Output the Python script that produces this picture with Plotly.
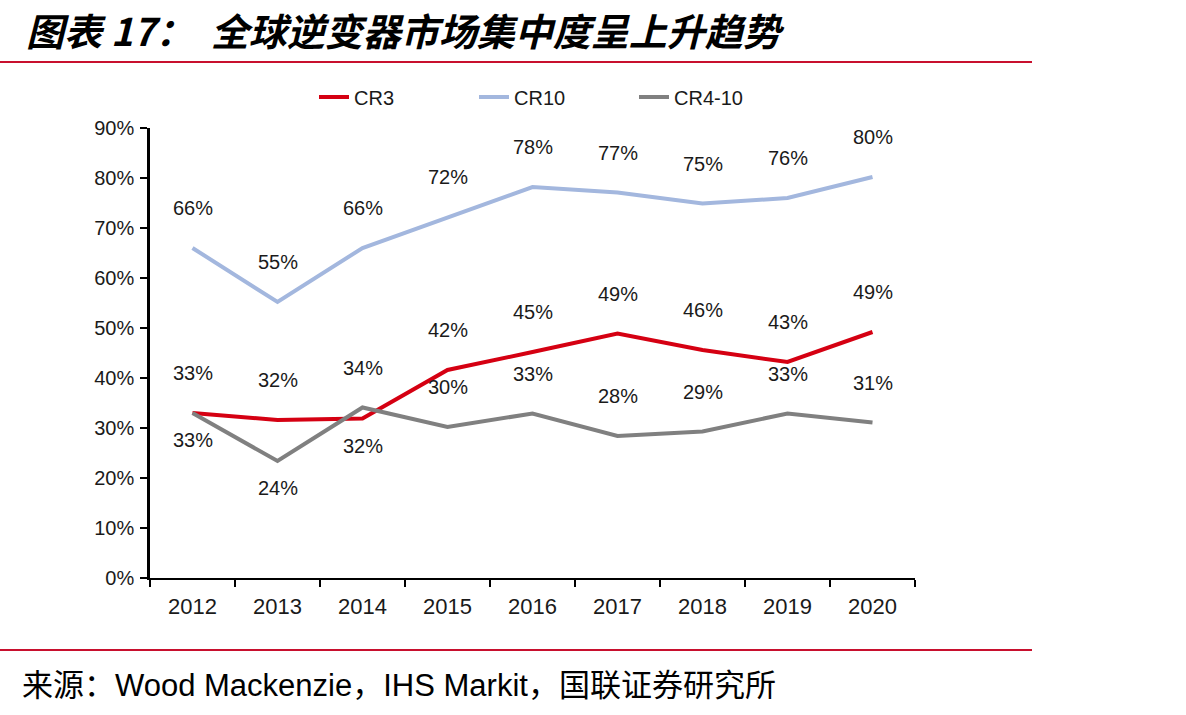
import plotly.graph_objects as go

years = ["2012", "2013", "2014", "2015", "2016", "2017", "2018", "2019", "2020"]
cr3 = [33.0, 31.6, 31.9, 41.6, 45.2, 48.9, 45.6, 43.2, 49.2]
cr10 = [66.0, 55.2, 66.0, 72.2, 78.2, 77.1, 74.9, 76.0, 80.2]
cr4_10 = [33.0, 23.4, 34.1, 30.2, 32.9, 28.4, 29.3, 32.9, 31.1]
cr3_labels = ["33%", "32%", "32%", "42%", "45%", "49%", "46%", "43%", "49%"]
cr10_labels = ["66%", "55%", "66%", "72%", "78%", "77%", "75%", "76%", "80%"]
cr4_10_labels = ["33%", "24%", "34%", "30%", "33%", "28%", "29%", "33%", "31%"]
y_ticks = [0, 10, 20, 30, 40, 50, 60, 70, 80, 90]
y_tick_labels = ["0%", "10%", "20%", "30%", "40%", "50%", "60%", "70%", "80%", "90%"]

# label placement (above / below the point)
cr3_pos = ["a", "a", "b", "a", "a", "a", "a", "a", "a"]
cr10_pos = ["a"] * 9
cr4_10_pos = ["b", "b", "a", "a", "a", "a", "a", "a", "a"]

W, H = 1186, 715
L, R, T, B = 150, 915, 128, 578
pw, ph = R - L, B - T


def px(x):
    return (x - L) / pw


def py(y):
    return (B - y) / ph


RED = "#D50012"
BLUE = "#A3B7DE"
GRAY = "#808080"
LINE_RED = "#C8102E"
FONT = "Liberation Sans"
TXT = "#1a1a1a"

fig = go.Figure()
for name, vals, col in [("CR3", cr3, RED), ("CR10", cr10, BLUE), ("CR4-10", cr4_10, GRAY)]:
    fig.add_trace(go.Scatter(x=years, y=vals, name=name, mode="lines",
                             line=dict(color=col, width=4)))

annotations = []
for vals, labels, pos in [(cr3, cr3_labels, cr3_pos), (cr10, cr10_labels, cr10_pos),
                          (cr4_10, cr4_10_labels, cr4_10_pos)]:
    for i, (v, lab, p) in enumerate(zip(vals, labels, pos)):
        annotations.append(dict(x=i, y=v, xref="x", yref="y", text=lab, showarrow=False,
                                yshift=40 if p == "a" else -27,
                                font=dict(family=FONT, size=20, color=TXT)))

annotations.append(dict(xref="paper", yref="paper", x=px(24), y=py(29), xanchor="left",
                        yanchor="middle", showarrow=False,
                        text="<b><i>图表 17：  全球逆变器市场集中度呈上升趋势</i></b>",
                        font=dict(family="Noto Sans CJK SC", size=38, color="#000000")))
annotations.append(dict(xref="paper", yref="paper", x=px(20), y=py(685), xanchor="left",
                        yanchor="middle", showarrow=False,
                        text="来源：Wood Mackenzie，IHS Markit，国联证券研究所",
                        font=dict(family="Liberation Sans, Noto Sans CJK SC", size=31, color="#000000")))

shapes = [
    dict(type="line", xref="paper", yref="paper", x0=px(0), x1=px(1032), y0=py(62), y1=py(62),
         line=dict(color=LINE_RED, width=2)),
    dict(type="line", xref="paper", yref="paper", x0=px(0), x1=px(1032), y0=py(650), y1=py(650),
         line=dict(color=LINE_RED, width=2)),
]

fig.update_layout(
    width=W, height=H,
    margin=dict(l=L, r=W - R, t=T, b=H - B, pad=0),
    plot_bgcolor="white", paper_bgcolor="white",
    showlegend=True,
    legend=dict(orientation="h", x=px(314), y=py(97), xanchor="left", yanchor="middle",
                font=dict(family=FONT, size=20, color=TXT), bgcolor="rgba(0,0,0,0)",
                entrywidth=115, entrywidthmode="pixels"),
    annotations=annotations,
    shapes=shapes,
    xaxis=dict(type="category", range=[-0.5, len(years) - 0.5],
               showline=True, linecolor="#000000", linewidth=2,
               ticks="outside", tickson="boundaries", ticklen=7, tickwidth=2, tickcolor="#000000",
               showgrid=False, zeroline=False, tickangle=0,
               tickfont=dict(family=FONT, size=22, color=TXT), ticklabelstandoff=8),
    yaxis=dict(range=[0, 90], tickmode="array", tickvals=y_ticks, ticktext=y_tick_labels,
               showline=True, linecolor="#000000", linewidth=2.5,
               ticks="outside", ticklen=7, tickwidth=2, tickcolor="#000000",
               showgrid=False, zeroline=False, ticklabelstandoff=2,
               tickfont=dict(family=FONT, size=20, color=TXT)),
)

fig.write_html("out.html")
